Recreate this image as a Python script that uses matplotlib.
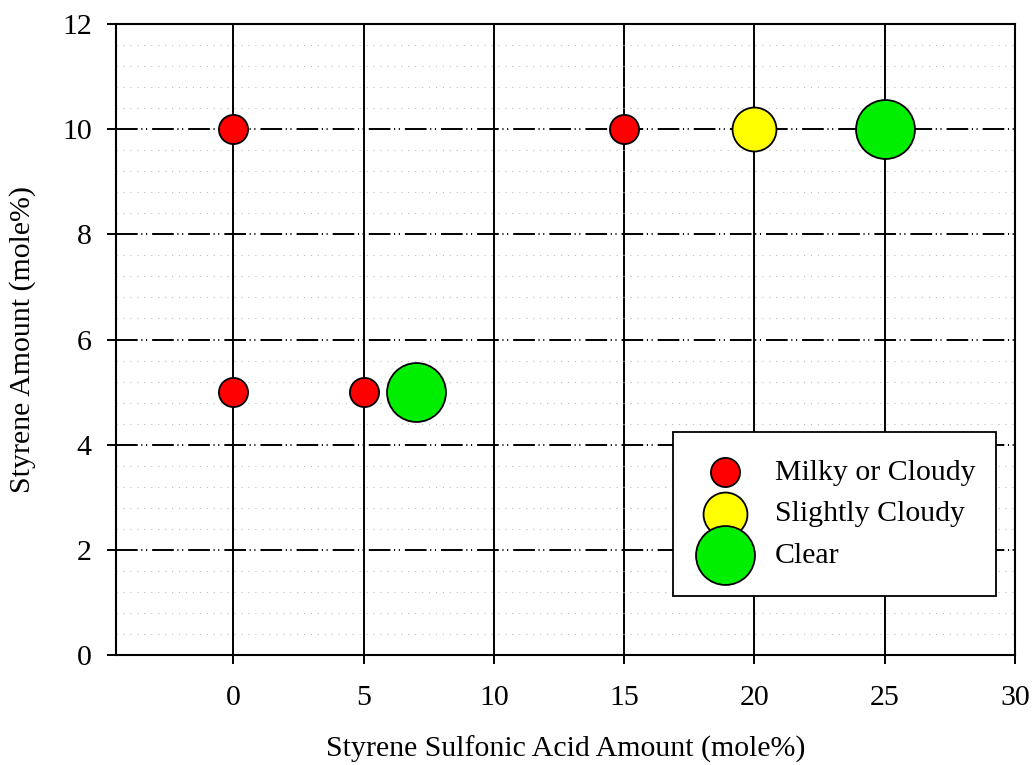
import matplotlib.pyplot as plt
from matplotlib.ticker import MultipleLocator

plt.rcParams['font.family'] = ['Liberation Serif', 'DejaVu Serif']
plt.rcParams['lines.scale_dashes'] = False

# Styrene sulfonic acid vs styrene, grouped by appearance of the film
labels = ["Milky or Cloudy", "Slightly Cloudy", "Clear"]
colors = ["#ff0000", "#ffff00", "#00ee00"]
sizes = [440, 1000, 1800]
ssa = [[0, 0, 5, 15], [20], [7, 25]]
styrene = [[10, 5, 5, 10], [10], [5, 10]]

x_ticks = [0, 5, 10, 15, 20, 25, 30]
y_ticks = [0, 2, 4, 6, 8, 10, 12]

fs = 21.5

fig = plt.figure(figsize=(10.32, 7.65), dpi=100)
ax = fig.add_axes([0.1124, 0.1438, 0.8711, 0.8248])

for lab, c, s, xs, ys in zip(labels, colors, sizes, ssa, styrene):
    ax.scatter(xs, ys, s=s, c=c, edgecolors='black', linewidths=1.3,
               label=lab, zorder=5)

ax.set_xlim(-4.5, 30)
ax.set_ylim(0, 12)
ax.set_xticks(x_ticks)
ax.set_yticks(y_ticks)
ax.yaxis.set_minor_locator(MultipleLocator(0.4))

# solid verticals, dash-dot-dot horizontals, faint dotted minors
ax.grid(axis='x', which='major', color='black', linewidth=1.4, linestyle='-')
ax.grid(axis='y', which='major', color='black', linewidth=1.4,
        linestyle=(0, (15.6, 2.6, 0.8, 2.6, 0.8, 3.6)))
ax.grid(axis='y', which='minor', color='#bbbbbb', linewidth=0.8,
        linestyle=(0, (0.8, 4.2)))
ax.set_axisbelow(True)

for sp in ax.spines.values():
    sp.set_linewidth(1.5)

ax.tick_params(axis='both', which='major', direction='out', length=6.5,
               width=1.4, labelsize=fs)
ax.tick_params(axis='x', pad=15)
ax.tick_params(axis='y', pad=11)
ax.tick_params(axis='y', which='minor', left=False)

ax.set_xlabel("Styrene Sulfonic Acid Amount (mole%)", fontsize=fs, labelpad=18)
ax.set_ylabel("Styrene Amount (mole%)", fontsize=fs, labelpad=19)

leg = ax.legend(loc='upper left', bbox_to_anchor=(0.6196, 0.0856, 0.359, 0.268),
                mode='expand', fontsize=fs, frameon=True, fancybox=False,
                edgecolor='black', framealpha=1, borderpad=0.9,
                labelspacing=0.5, handlelength=1.68, handletextpad=0.83,
                borderaxespad=0)
leg.get_frame().set_linewidth(1.3)
leg.set_zorder(10)

fig.savefig("out.png", dpi=100)
